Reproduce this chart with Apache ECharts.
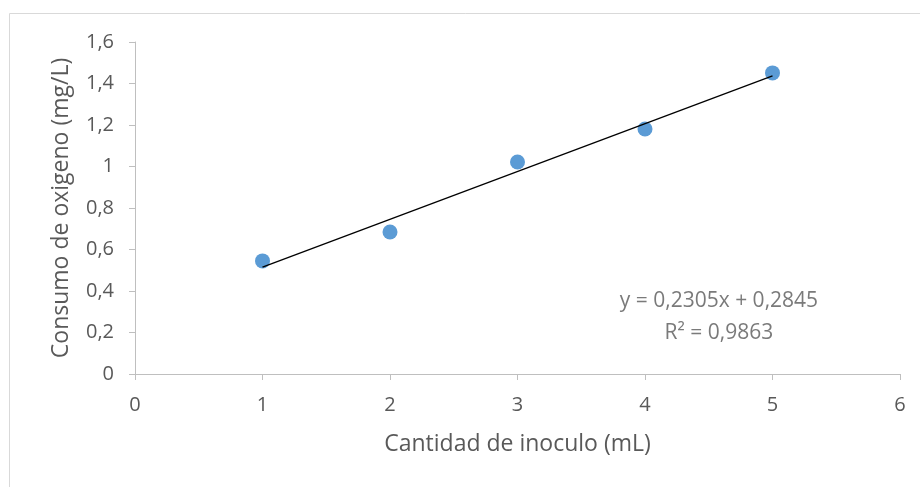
<!DOCTYPE html>
<html><head><meta charset="utf-8">
<script src="https://cdn.jsdelivr.net/npm/echarts@6/dist/echarts.min.js"></script>
<style>html,body{margin:0;padding:0;background:#fff}#c{width:920px;height:487px}</style>
</head><body><div id="c"></div>
<script>
var xValues = [1, 2, 3, 4, 5];
var yValues = [0.545, 0.684, 1.022, 1.181, 1.451];
var trendPoints = [[1, 0.515], [5, 1.437]];
var equationLines = ['y = 0,2305x + 0,2845', 'R² = 0,9863'];
var xTitle = 'Cantidad de inoculo (mL)';
var yTitle = 'Consumo de oxigeno (mg/L)';

var font = 'Open Sans';
var chart = echarts.init(document.getElementById('c'));
chart.setOption({
  animation: false,
  graphic: [{
    type: 'rect', shape: {x: 9.5, y: 13.5, width: 1000, height: 1000},
    style: {fill: 'none', stroke: '#d9d9d9', lineWidth: 1}, z: -1
  }],
  grid: {left: 135, right: 20, top: 42, bottom: 113},
  xAxis: {
    type: 'value', min: 0, max: 6, interval: 1,
    name: xTitle, nameLocation: 'middle', nameGap: 59,
    nameTextStyle: {color: '#595959', fontSize: 23, fontFamily: font},
    axisLine: {show: true, lineStyle: {color: '#bfbfbf'}},
    axisTick: {show: true, length: 6, lineStyle: {color: '#bfbfbf'}},
    axisLabel: {color: '#595959', fontSize: 20, fontFamily: font, margin: 21},
    splitLine: {show: false}
  },
  yAxis: {
    type: 'value', min: 0, max: 1.6, interval: 0.2,
    name: yTitle, nameLocation: 'middle', nameGap: 62,
    nameTextStyle: {color: '#595959', fontSize: 23, fontFamily: font},
    axisLine: {show: true, lineStyle: {color: '#bfbfbf'}},
    axisTick: {show: true, length: 6, lineStyle: {color: '#bfbfbf'}},
    axisLabel: {color: '#595959', fontSize: 20, fontFamily: font, margin: 21,
      formatter: function (v) { return String(Math.round(v * 10) / 10).replace('.', ','); }},
    splitLine: {show: false}
  },
  series: [{
    type: 'line', data: trendPoints, symbol: 'none',
    lineStyle: {color: '#000', width: 1.3}, z: 3
  }, {
    type: 'scatter', data: xValues.map(function (x, i) { return [x, yValues[i]]; }),
    symbolSize: 15, itemStyle: {color: '#5b9bd5', opacity: 1}, z: 2
  }, {
    type: 'scatter', data: [[4.58, 0.352], [4.58, 0.198]], symbolSize: 0, silent: true,
    label: {show: true, position: 'inside', color: '#595959', fontSize: 21, fontFamily: font,
      formatter: function (p) { return equationLines[p.dataIndex]; }}
  }]
});
</script></body></html>
